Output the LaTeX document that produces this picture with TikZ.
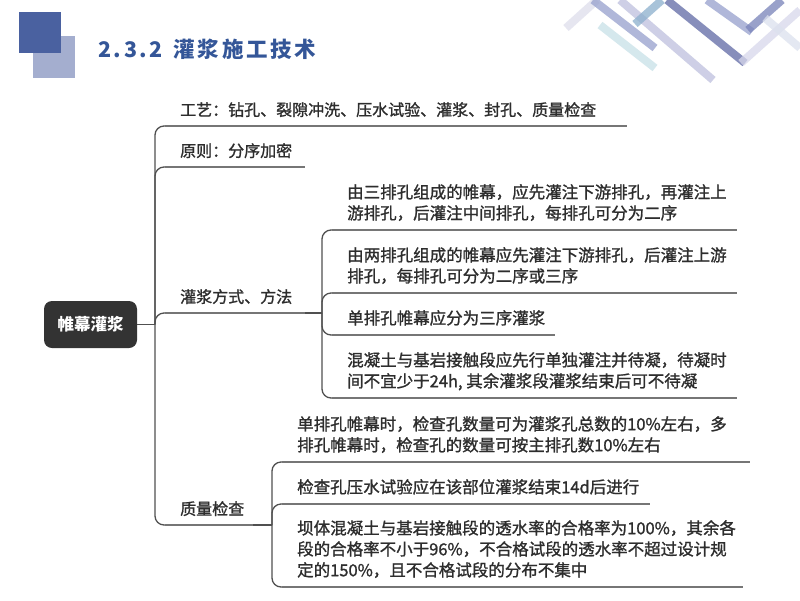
\documentclass[tikz,border=0pt]{standalone}
\usepackage{fontspec}
\setmainfont{Noto Sans CJK SC}
\newfontfamily\medfont{Noto Sans CJK SC}[FakeBold=1.2]
\newcommand{\qcomma}{\makebox[1em][l]{，}}
\definecolor{titleblue}{RGB}{52,86,152}
\definecolor{sqdark}{RGB}{74,97,160}
\definecolor{sqlight}{RGB}{164,174,207}
\definecolor{txt}{RGB}{45,45,45}
\definecolor{conn}{RGB}{80,80,80}
\definecolor{uline}{RGB}{118,118,118}
\definecolor{rootfill}{RGB}{51,51,51}
\definecolor{sa}{RGB}{222,222,236}
\definecolor{sb}{RGB}{150,160,205}
\definecolor{sc}{RGB}{200,225,232}
\definecolor{sd}{RGB}{190,192,222}
\definecolor{se}{RGB}{95,105,165}
\definecolor{sf}{RGB}{215,215,235}
\definecolor{sg}{RGB}{120,130,185}
\definecolor{sh}{RGB}{140,175,205}
\definecolor{si}{RGB}{220,225,238}
\tikzset{
  lvone/.style={anchor=north west, inner sep=0pt, font=\medfont\fontsize{16}{21}\selectfont, text=txt, align=left},
  lvtwo/.style={anchor=north west, inner sep=0pt, font=\medfont\fontsize{16.5}{21}\selectfont, text=txt, align=left},
  branch/.style={draw=conn, line width=1.3pt, rounded corners=9pt},
  underl/.style={draw=uline, line width=1.8pt},
  strip/.style={line width=8pt, line cap=butt, opacity=0.75}
}
\begin{document}
\begin{tikzpicture}[x=1pt,y=-1pt]
\useasboundingbox (0,0) rectangle (800,600);
\fill[white] (0,0) rectangle (800,600);
% decoration top right
\draw[strip, sa] (566,28) -- (597,0);
\draw[strip, sc] (600,25) -- (655,68);
\draw[strip, sb] (593,0) -- (655,48);
\draw[strip, sd] (620,0) -- (713,80);
\draw[strip, sh] (635,24) -- (662,0);
\draw[strip, sb] (707,0) -- (752,32);
\draw[strip, se] (667,0) -- (745,63);
\draw[strip, sf] (741,63) -- (800,10);
\draw[strip, sg] (748,30) -- (782,0);
\draw[strip, si] (765,18) -- (800,48);
% squares
\fill[sqlight] (33,36) rectangle (75,78);
\fill[sqdark] (19,12) rectangle (61,53);
% title
\node[anchor=west, inner sep=0pt, text=titleblue, font=\fontsize{21.5}{24}\selectfont\bfseries\addfontfeatures{LetterSpace=12}] (title) at (98,49) {2.3.2\hspace{11pt}灌浆施工技术};
% root
\node[fill=rootfill, rounded corners=8pt, minimum width=93pt, minimum height=47pt, inner sep=0pt, text=white, font=\fontsize{16.5}{20}\selectfont\bfseries] (root) at (90.5,324.5) {帷幕灌浆};
\coordinate (j1) at (155,324.5);
\draw[branch] (root.east) -- (j1);
% level one
\node[lvone] (t1) at (180,102) {工艺：钻孔、裂隙冲洗、压水试验、灌浆、封孔、质量检查};
\node[lvone] (t2) at (180,143) {原则：分序加密};
\node[lvone] (t3) at (180,289) {灌浆方式、方法};
\node[lvone] (t4) at (180,501) {质量检查};
\coordinate (u1s) at (165,126); \coordinate (u1e) at (627,126);
\coordinate (u2s) at (165,167); \coordinate (u2e) at (305,167);
\coordinate (u3s) at (165,313); \coordinate (u3e) at (305,313);
\coordinate (u4s) at (165,525); \coordinate (u4e) at (253,525);
\draw[branch] (j1) |- (u1s);
\draw[branch] (j1) |- (u2s);
\draw[branch] (j1) |- (u3s);
\draw[branch] (j1) |- (u4s);
\draw[underl] (u1s) -- (u1e);
\draw[underl] (u2s) -- (u2e);
\draw[underl] (u3s) -- (u3e);
\draw[underl] (u4s) -- (u4e);
% level two under t3
\coordinate (j2) at (322,313);
\draw[branch] (u3e) -- (j2);
\node[lvtwo] (c1) at (347,184) {由三排孔组成的帷幕\qcomma 应先灌注下游排孔\qcomma 再灌注上\\游排孔\qcomma 后灌注中间排孔\qcomma 每排孔可分为二序};
\node[lvtwo] (c2) at (347,247) {由两排孔组成的帷幕应先灌注下游排孔\qcomma 后灌注上游\\排孔\qcomma 每排孔可分为二序或三序};
\node[lvtwo] (c3) at (347,310) {单排孔帷幕应分为三序灌浆};
\node[lvtwo] (c4) at (347,352) {混凝土与基岩接触段应先行单独灌注并待凝\qcomma 待凝时\\间不宜少于24h, 其余灌浆段灌浆结束后可不待凝};
\coordinate (v1s) at (332,230); \coordinate (v1e) at (737,230);
\coordinate (v2s) at (332,293); \coordinate (v2e) at (737,293);
\coordinate (v3s) at (332,335); \coordinate (v3e) at (555,335);
\coordinate (v4s) at (332,398); \coordinate (v4e) at (737,398);
\foreach \k in {1,2,3,4} {
  \draw[branch] (j2) |- (v\k s);
  \draw[underl] (v\k s) -- (v\k e);
}
% level two under t4
\coordinate (j3) at (272,525);
\draw[branch] (u4e) -- (j3);
\node[lvtwo] (q1) at (297,416) {单排孔帷幕时\qcomma 检查孔数量可为灌浆孔总数的10\%左右\qcomma 多\\排孔帷幕时\qcomma 检查孔的数量可按主排孔数10\%左右};
\node[lvtwo] (q2) at (297,479) {检查孔压水试验应在该部位灌浆结束14d后进行};
\node[lvtwo] (q3) at (297,520) {坝体混凝土与基岩接触段的透水率的合格率为100\%\qcomma 其余各\\段的合格率不小于96\%\qcomma 不合格试段的透水率不超过设计规\\定的150\%\qcomma 且不合格试段的分布不集中};
\coordinate (w1s) at (282,462); \coordinate (w1e) at (750,462);
\coordinate (w2s) at (282,504); \coordinate (w2e) at (650,504);
\coordinate (w3s) at (282,587); \coordinate (w3e) at (743,587);
\foreach \k in {1,2,3} {
  \draw[branch] (j3) |- (w\k s);
  \draw[underl] (w\k s) -- (w\k e);
}
\end{tikzpicture}
\end{document}
